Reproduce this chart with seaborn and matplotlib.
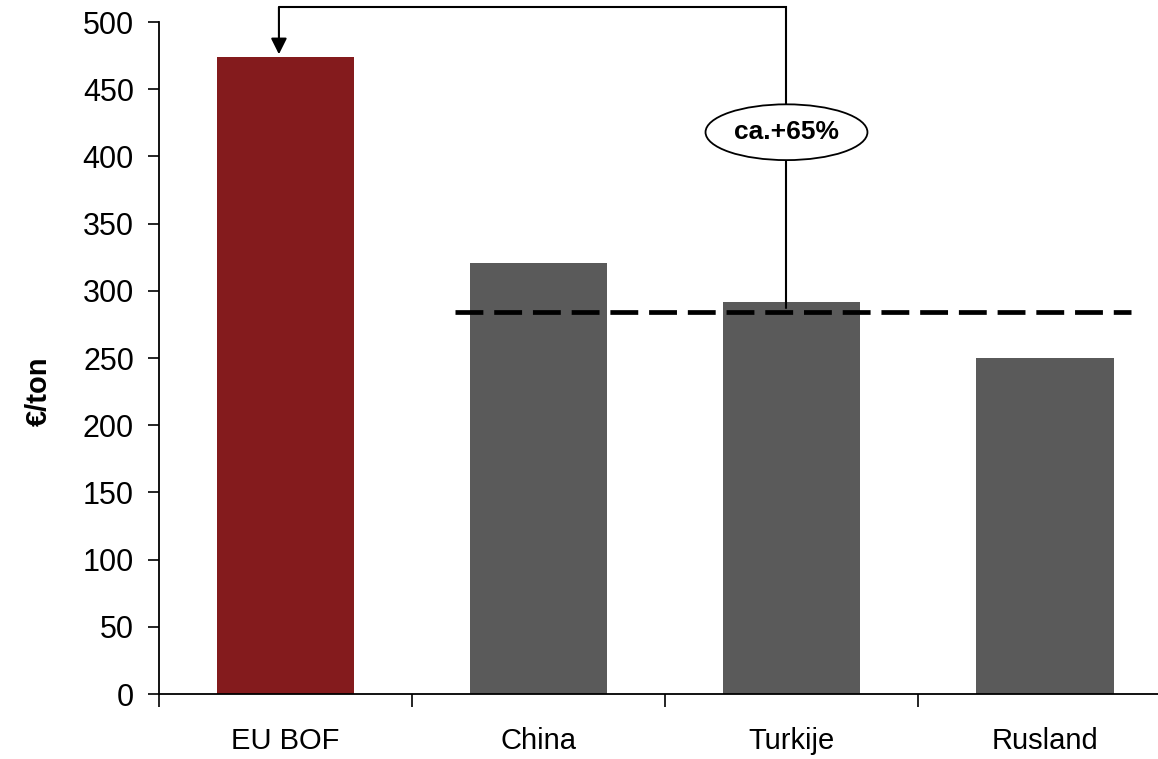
"""Bar chart: cost per ton, EU BOF vs. China, Turkije, Rusland."""

import matplotlib

matplotlib.use("Agg")

import matplotlib.pyplot as plt
import pandas as pd
import seaborn as sns
from matplotlib.patches import Ellipse

# data
CATEGORIES = ["EU BOF", "China", "Turkije", "Rusland"]
VALUES = [474, 321, 292, 250]
BAR_COLORS = ["#841B1D", "#5A5A5A", "#5A5A5A", "#5A5A5A"]
AVERAGE_OTHERS = 284
Y_TICKS = list(range(0, 501, 50))
DIFF_LABEL = "ca.+65%"

sns.set_theme(style="white")
plt.rcParams["font.family"] = ["Liberation Sans", "DejaVu Sans"]
plt.rcParams["text.color"] = "black"
plt.rcParams["axes.labelcolor"] = "black"
plt.rcParams["xtick.color"] = "black"
plt.rcParams["ytick.color"] = "black"

df = pd.DataFrame({"land": CATEGORIES, "kosten": VALUES})

fig = plt.figure(figsize=(11.58, 7.59), dpi=100)
ax = fig.add_axes([0.1373, 0.0856, 0.874, 0.8854])

sns.barplot(
    data=df, x="land", y="kosten", hue="land", palette=BAR_COLORS,
    width=0.545, saturation=1, legend=False, linewidth=0, ax=ax,
)

ax.set_xlim(-0.5, 3.5)
ax.set_ylim(0, 500)
ax.set_yticks(Y_TICKS)
ax.set_xlabel("")
ax.set_ylabel("€/ton", fontsize=21, fontweight="bold")
ax.yaxis.set_label_coords(-0.105, 0.45)

for side in ["top", "right"]:
    ax.spines[side].set_visible(False)
for side in ["left", "bottom"]:
    ax.spines[side].set_color("black")
    ax.spines[side].set_linewidth(1.3)

ax.tick_params(axis="y", direction="out", length=8, width=1.2,
               labelsize=22, pad=10, left=True)
# x ticks sit on the category boundaries, labels stay centred
ax.set_xticks(range(len(CATEGORIES)))
ax.set_xticks([i - 0.5 for i in range(len(CATEGORIES) + 1)], minor=True)
ax.tick_params(axis="x", which="major", length=0, labelsize=21, pad=24)
ax.tick_params(axis="x", which="minor", direction="out", length=9, width=1.2,
               bottom=True)

# average of the competitors
ax.plot([0.67, 3.34], [AVERAGE_OTHERS, AVERAGE_OTHERS], color="black",
        linewidth=3.4, dashes=(5.9, 2.3), zorder=3)

# connector from Turkije to EU BOF
x_from, x_to = 1.98, -0.026
y_start, y_top = 287, 511
ax.plot([x_from, x_from, x_to], [y_start, y_top, y_top], color="black",
        linewidth=1.5, clip_on=False, zorder=4, solid_joinstyle="miter")
ax.annotate("", xy=(x_to, VALUES[0] + 2), xytext=(x_to, y_top),
            arrowprops=dict(arrowstyle="-|>", color="black", lw=1.5,
                            mutation_scale=24, shrinkA=0, shrinkB=0),
            annotation_clip=False, zorder=4)

ax.add_patch(Ellipse((x_from, 418), width=0.64, height=41.5, facecolor="white",
                     edgecolor="black", linewidth=1.3, zorder=5))
ax.text(x_from, 418, DIFF_LABEL, ha="center", va="center", fontsize=19,
        fontweight="bold", zorder=6)

fig.savefig("out.png", dpi=100)
